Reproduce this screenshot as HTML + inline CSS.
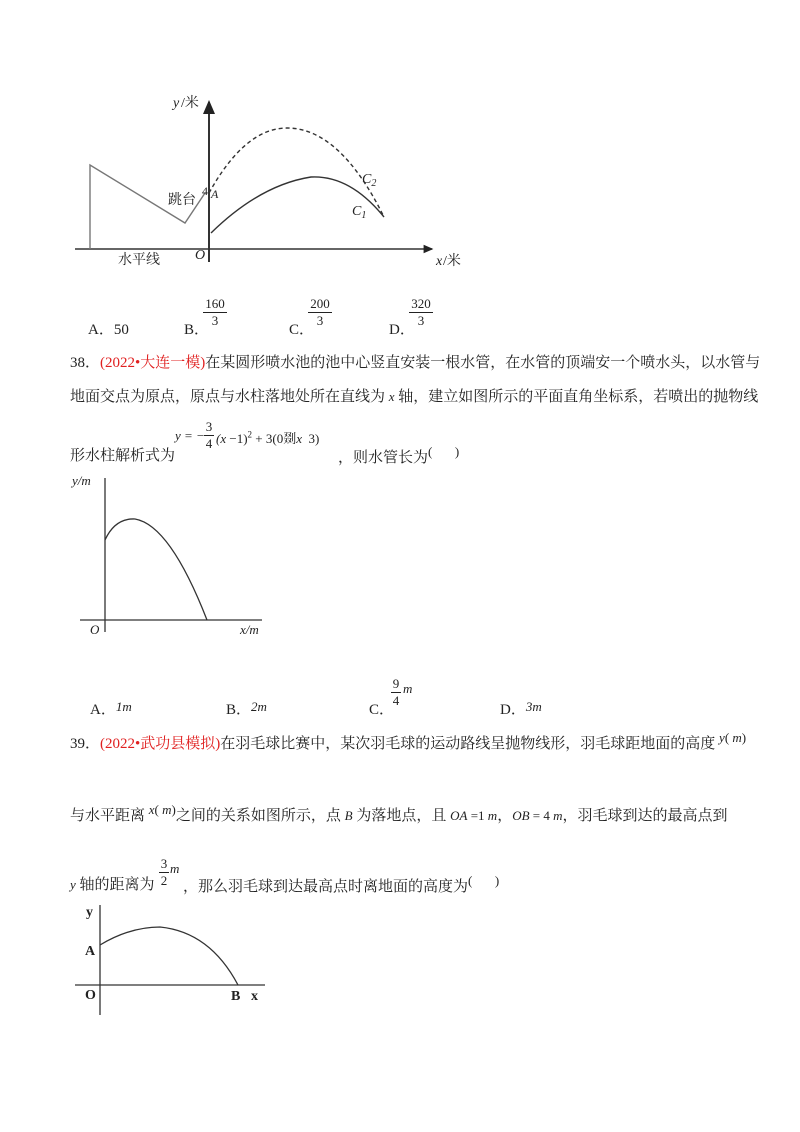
<!DOCTYPE html>
<html><head><meta charset="utf-8"><style>
body{margin:0;background:#fff;}
#p{position:relative;width:800px;height:1132px;overflow:hidden;font-family:"Liberation Serif","Noto Serif CJK SC",serif;color:#222;}
.t{position:absolute;font-size:15px;white-space:nowrap;}
.r{color:#e02020;}
.i{font-style:italic;}
.s{font-size:13px;}
svg{position:absolute;left:0;top:0;}
</style></head><body><div id="p">
<svg width="800" height="1132" font-family="Liberation Serif, Noto Serif CJK SC, serif">
<defs><marker id="ar" markerWidth="8" markerHeight="8" refX="6" refY="4" orient="auto"><path d="M0,1 L7,4 L0,7 Z" fill="#222"/></marker></defs>
<!-- graph 1 -->
<g stroke="#333" fill="none" stroke-width="1.4">
<line x1="75" y1="249" x2="432" y2="249" marker-end="url(#ar)"/>
<line x1="209" y1="262" x2="209" y2="102" marker-end="url(#ar)" stroke-width="2"/>
<polyline points="90,249 90,165 185,223 205,193" stroke="#777"/>
<path d="M211,233 Q260,185 311,177 Q350,175 384,217"/>
<path d="M209,193 Q245,128 287,128 Q340,128 384,217" stroke-dasharray="4,3"/>
</g>
<g font-size="14" fill="#222">
<text x="173" y="107" font-style="italic">y</text><text x="181" y="107">/米</text>
<text x="436" y="265" font-style="italic">x</text><text x="443" y="265">/米</text>
<text x="195" y="259" font-style="italic">O</text>
<text x="118" y="264">水平线</text>
<text x="168" y="204">跳台</text>
<text x="202" y="195" font-size="12">4</text><text x="211" y="198" font-style="italic" font-size="12">A</text>
<text x="362" y="183" font-style="italic">C<tspan font-size="10" dy="3">2</tspan></text>
<text x="352" y="215" font-style="italic">C<tspan font-size="10" dy="3">1</tspan></text>
</g>
<!-- graph 2 -->
<g stroke="#333" fill="none" stroke-width="1.3">
<line x1="80" y1="620" x2="262" y2="620"/>
<line x1="105" y1="632" x2="105" y2="478"/>
<path d="M105,540 Q115,518 135,519 Q170,525 207,620"/>
</g>
<g font-size="13" fill="#222" font-style="italic">
<text x="72" y="485">y/m</text><text x="90" y="634">O</text><text x="240" y="634">x/m</text>
</g>
<!-- graph 3 -->
<g stroke="#333" fill="none" stroke-width="1.3">
<line x1="75" y1="985" x2="265" y2="985"/>
<line x1="100" y1="905" x2="100" y2="1015"/>
<path d="M100,945 Q130,927 160,927 Q210,932 238,985"/>
</g>
<g font-size="14" fill="#222" font-weight="bold">
<text x="86" y="916">y</text><text x="85" y="955">A</text><text x="85" y="999">O</text><text x="231" y="1000">B</text><text x="251" y="1000">x</text>
</g>
</svg>
<div class="t" style="left:88px;top:318px">A．50</div>
<div class="t" style="left:184px;top:318px">B．</div>
<div class="t s" style="left:203px;top:296px;text-align:center;width:24px;line-height:16px"><div style="border-bottom:1px solid #222">160</div>3</div>
<div class="t" style="left:289px;top:318px">C．</div>
<div class="t s" style="left:308px;top:296px;text-align:center;width:24px;line-height:16px"><div style="border-bottom:1px solid #222">200</div>3</div>
<div class="t" style="left:389px;top:318px">D．</div>
<div class="t s" style="left:409px;top:296px;text-align:center;width:24px;line-height:16px"><div style="border-bottom:1px solid #222">320</div>3</div>
<div class="t" style="left:70px;top:351px">38．<span class="r">(2022•大连一模)</span>在某圆形喷水池的池中心竖直安装一根水管，在水管的顶端安一个喷水头，以水管与</div>
<div class="t" style="left:70px;top:385px">地面交点为原点，原点与水柱落地处所在直线为 <span class="i s">x</span> 轴，建立如图所示的平面直角坐标系，若喷出的抛物线</div>
<div class="t" style="left:70px;top:444px">形水柱解析式为</div>
<div class="t s i" style="left:175px;top:428px">y = −</div>
<div class="t s" style="left:204px;top:419px;line-height:16px;text-align:center;width:10px"><div style="border-bottom:1px solid #222">3</div>4</div>
<div class="t s" style="left:216px;top:428px"><i>(x</i> −1)<sup style="font-size:9px">2</sup> + 3(0剟<i>x</i>&nbsp; 3)</div>
<div class="t" style="left:338px;top:444px">，则水管长为<span style="font-size:13px;vertical-align:6px">(</span>&nbsp;&nbsp;&nbsp;&nbsp;&nbsp;&nbsp;<span style="font-size:13px;vertical-align:6px">)</span></div>
<div class="t" style="left:90px;top:698px">A．<span class="s i" style="vertical-align:3px">1m</span></div>
<div class="t" style="left:226px;top:698px">B．<span class="s i" style="vertical-align:3px">2m</span></div>
<div class="t" style="left:369px;top:698px">C．</div>
<div class="t s" style="left:391px;top:676px;line-height:16px;text-align:center;width:10px"><div style="border-bottom:1px solid #222">9</div>4</div>
<div class="t s i" style="left:403px;top:681px">m</div>
<div class="t" style="left:500px;top:698px">D．<span class="s i" style="vertical-align:3px">3m</span></div>
<div class="t" style="left:70px;top:730px">39．<span class="r">(2022•武功县模拟)</span>在羽毛球比赛中，某次羽毛球的运动路线呈抛物线形，羽毛球距地面的高度 <span class="s" style="vertical-align:6px"><i>y</i>( <i>m</i>)</span></div>
<div class="t" style="left:70px;top:802px">与水平距离 <span class="s" style="vertical-align:6px"><i>x</i>( <i>m</i>)</span>之间的关系如图所示，点 <i class="s">B</i> 为落地点，且 <span class="s"><i>OA</i> =1 <i>m</i></span>，<span class="s"><i>OB</i> = 4 <i>m</i></span>，羽毛球到达的最高点到</div>
<div class="t" style="left:70px;top:873px"><i class="s">y</i> 轴的距离为</div>
<div class="t s" style="left:159px;top:856px;line-height:16px;text-align:center;width:10px"><div style="border-bottom:1px solid #222">3</div>2</div>
<div class="t s i" style="left:170px;top:861px">m</div>
<div class="t" style="left:183px;top:873px">，那么羽毛球到达最高点时离地面的高度为<span style="font-size:13px;vertical-align:6px">(</span>&nbsp;&nbsp;&nbsp;&nbsp;&nbsp;&nbsp;<span style="font-size:13px;vertical-align:6px">)</span></div>
</div></body></html>
